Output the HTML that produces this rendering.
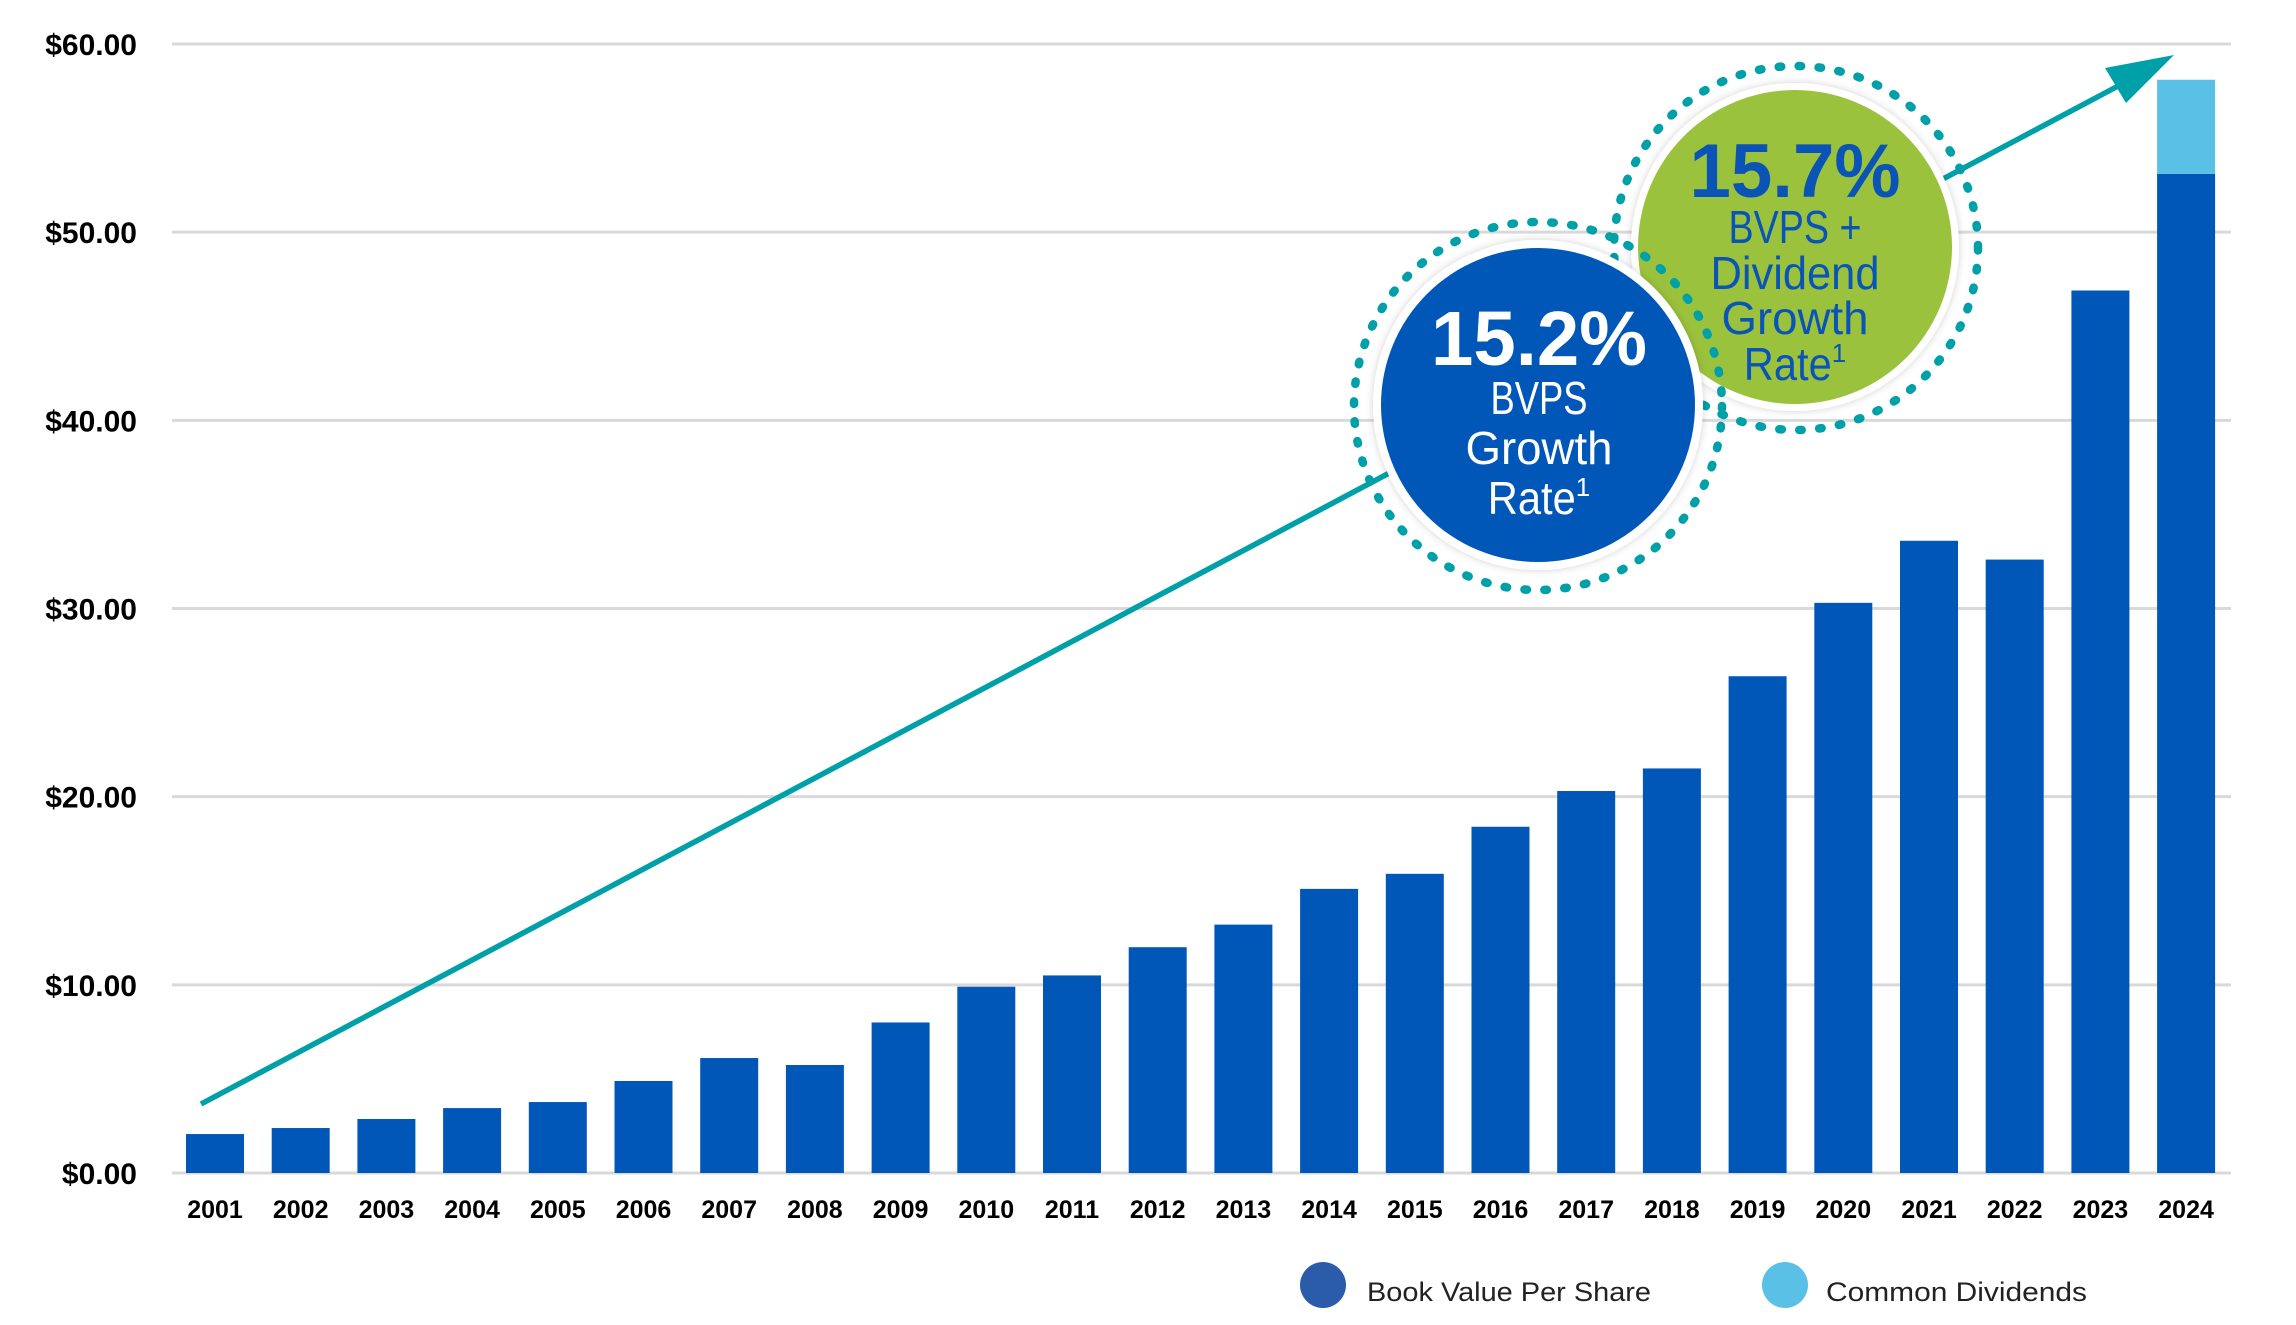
<!DOCTYPE html>
<html><head><meta charset="utf-8"><style>
html,body{margin:0;padding:0;background:#fff;}
svg{display:block;}
text{font-family:"Liberation Sans",sans-serif;}
</style></head><body>
<svg id="chart" width="2296" height="1325" viewBox="0 0 2296 1325" xmlns="http://www.w3.org/2000/svg">
<defs>
<filter id="sh" x="-20%" y="-20%" width="140%" height="140%"><feDropShadow dx="0" dy="0" stdDeviation="4" flood-color="#000" flood-opacity="0.18"/></filter>
</defs>
<g id="grid"></g>
<g id="ylabels"></g>
<g id="bars"></g>
<g id="xlabels"></g>
<g>
<line x1="201" y1="1104" x2="2120" y2="85" stroke="#00a0a8" stroke-width="5.5"/>
<polygon points="2174,55 2105,68 2126,103" fill="#00a0a8"/>
</g>
<g>
<circle cx="1796" cy="248" r="182" fill="none" stroke="#00a0a8" stroke-width="8.5" stroke-linecap="round" stroke-dasharray="2.5 17.5"/>
<circle cx="1795" cy="247" r="164" fill="#fff" filter="url(#sh)"/>
<circle cx="1795" cy="247" r="157" fill="#9bc23c"/>
<text x="1795" y="197" text-anchor="middle" font-size="76" font-weight="bold" fill="#0a54b8" textLength="211" lengthAdjust="spacingAndGlyphs">15.7%</text>
<text x="1795" y="243" text-anchor="middle" font-size="46" fill="#0a54b8" textLength="133" lengthAdjust="spacingAndGlyphs">BVPS +</text>
<text x="1795" y="289" text-anchor="middle" font-size="46" fill="#0a54b8" textLength="169" lengthAdjust="spacingAndGlyphs">Dividend</text>
<text x="1795" y="334" text-anchor="middle" font-size="46" fill="#0a54b8" textLength="147" lengthAdjust="spacingAndGlyphs">Growth</text>
<text x="1795" y="380" text-anchor="middle" font-size="46" fill="#0a54b8"><tspan textLength="88" lengthAdjust="spacingAndGlyphs">Rate</tspan><tspan font-size="26" dy="-18">1</tspan></text>
</g>
<g>
<circle cx="1538" cy="406" r="184" fill="none" stroke="#00a0a8" stroke-width="8.5" stroke-linecap="round" stroke-dasharray="2.5 17.5"/>
<circle cx="1538" cy="405" r="165" fill="#fff" filter="url(#sh)"/>
<circle cx="1538" cy="405" r="157" fill="#0057b8"/>
<text x="1539" y="365" text-anchor="middle" font-size="77" font-weight="bold" fill="#fff" textLength="216" lengthAdjust="spacingAndGlyphs">15.2%</text>
<text x="1539" y="414" text-anchor="middle" font-size="46" fill="#fff" textLength="97" lengthAdjust="spacingAndGlyphs">BVPS</text>
<text x="1539" y="464" text-anchor="middle" font-size="46" fill="#fff" textLength="147" lengthAdjust="spacingAndGlyphs">Growth</text>
<text x="1539" y="514" text-anchor="middle" font-size="46" fill="#fff"><tspan textLength="88" lengthAdjust="spacingAndGlyphs">Rate</tspan><tspan font-size="26" dy="-18">1</tspan></text>
</g>
<g>
<g>
<circle cx="1323" cy="1285" r="23" fill="#2a5caa"/>
<text x="1367" y="1301" font-size="27" fill="#222" textLength="284" lengthAdjust="spacingAndGlyphs">Book Value Per Share</text>
</g>
<g>
<circle cx="1785" cy="1285" r="23" fill="#5bc0e6"/>
<text x="1826" y="1301" font-size="27" fill="#222" textLength="261" lengthAdjust="spacingAndGlyphs">Common Dividends</text>
</g>
</g>
</svg>
<script>
const years = ['2001','2002','2003','2004','2005','2006','2007','2008','2009','2010','2011','2012','2013','2014','2015','2016','2017','2018','2019','2020','2021','2022','2023','2024'];
const bvps = [2.07,2.39,2.87,3.45,3.77,4.89,6.11,5.74,8.0,9.9,10.5,12.0,13.2,15.1,15.9,18.4,20.3,21.5,26.4,30.3,33.6,32.6,46.9,53.1];
const dividends = [0,0,0,0,0,0,0,0,0,0,0,0,0,0,0,0,0,0,0,0,0,0,0,5.0];
const yTicks = [0,10,20,30,40,50,60];
const yTickLabels = ['$0.00','$10.00','$20.00','$30.00','$40.00','$50.00','$60.00'];

const NS='http://www.w3.org/2000/svg';
const y0=1173, pxPer=(1173-44)/60;
function yScale(v){return y0 - v*pxPer;}
const x0=186, pitch=85.7, bw=58;
function xScale(i){return x0 + i*pitch;}
function mk(tag, attrs, parent){const e=document.createElementNS(NS,tag);for(const k in attrs)e.setAttribute(k,attrs[k]);parent.appendChild(e);return e;}

const grid=document.getElementById('grid'), yl=document.getElementById('ylabels');
yTicks.forEach((t,i)=>{
  const l=mk('line',{x1:172,x2:2231,y1:yScale(t),y2:yScale(t),stroke:'#d9d9d9','stroke-width':3},grid);
  
  
  const tx=mk('text',{x:137,y:yScale(t)+11,'text-anchor':'end','font-size':30,'font-weight':'bold',fill:'#000'},yl);
  tx.textContent=yTickLabels[i];
  
  
});
const bars=document.getElementById('bars'), xl=document.getElementById('xlabels');
years.forEach((yr,i)=>{
  const x=xScale(i);
  const b=mk('rect',{x:x,y:yScale(bvps[i]),width:bw,height:yScale(0)-yScale(bvps[i]),fill:'#0057b8'},bars);
  
  
  if(dividends[i]>0){
    const d=mk('rect',{x:x,y:yScale(bvps[i]+dividends[i]),width:bw,height:yScale(bvps[i])-yScale(bvps[i]+dividends[i]),fill:'#5bc0e6'},bars);
    
    
  }
  const t=mk('text',{x:x+bw/2,y:1218,'text-anchor':'middle','font-size':25,'font-weight':'bold',fill:'#000'},xl);
  t.textContent=yr;
  
  
});
</script>
</body></html>
